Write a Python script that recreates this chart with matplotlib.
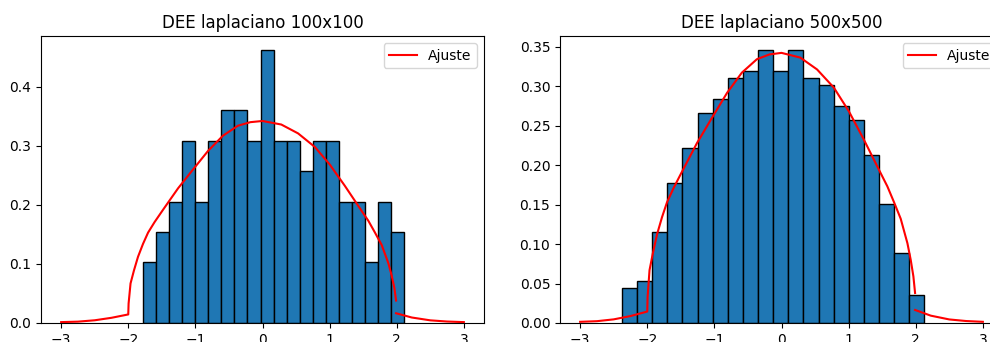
import numpy as np
import matplotlib
matplotlib.use('Agg')
import matplotlib.pyplot as plt

# conteos por bin (20 bins cada uno)
cuentas_100 = [2, 3, 4, 6, 4, 6, 7, 7, 6, 9, 6, 6, 5, 6, 6, 4, 4, 2, 4, 3]
rango_100 = (-1.78, 2.11)

cuentas_500 = [5, 6, 13, 20, 25, 30, 32, 35, 36, 39, 36, 39, 35, 34, 31, 29, 24, 17, 10, 4]
rango_500 = (-2.378, 2.130)

# curva de ajuste (puntos leidos, nan = corte en x=2)
ajuste_x = [-3.0, -2.75, -2.5, -2.25, -2.0,
            -1.995, -1.966, -1.915, -1.855, -1.78, -1.705, -1.607, -1.48,
            -1.258, -1.034, -0.81, -0.59, -0.366, -0.18, 0.0,
            0.28, 0.53, 0.78, 1.004, 1.228, 1.452, 1.577, 1.676, 1.776,
            1.876, 1.925, 1.965, 1.99,
            np.nan,
            1.99, 2.224, 2.5, 2.75, 3.0]
ajuste_y = [0.0015, 0.0023, 0.0046, 0.0088, 0.0145,
            0.033, 0.067, 0.089, 0.112, 0.134, 0.153, 0.171, 0.192,
            0.228, 0.260, 0.2915, 0.317, 0.334, 0.340, 0.342,
            0.336, 0.321, 0.298, 0.268, 0.232, 0.194, 0.173, 0.153, 0.132,
            0.101, 0.080, 0.059, 0.038,
            np.nan,
            0.0165, 0.0093, 0.0045, 0.0025, 0.0015]

titulos = ['DEE laplaciano 100x100', 'DEE laplaciano 500x500']

fig = plt.figure(figsize=(9.9, 3.42), dpi=100)
ax1 = fig.add_axes([41 / 990, 19 / 342, 443 / 990, 287 / 342])
ax2 = fig.add_axes([560 / 990, 19 / 342, 443 / 990, 287 / 342])

for ax, cuentas, rango, titulo in zip([ax1, ax2], [cuentas_100, cuentas_500],
                                      [rango_100, rango_500], titulos):
    bordes = np.linspace(rango[0], rango[1], len(cuentas) + 1)
    centros = (bordes[:-1] + bordes[1:]) / 2
    ax.hist(centros, bins=bordes, weights=cuentas, density=True,
            color='#1f77b4', edgecolor='black')
    ax.plot(ajuste_x, ajuste_y, color='red', label='Ajuste')
    ax.set_title(titulo)
    ax.legend(loc='upper right')

ax2.set_yticks([0.0, 0.05, 0.10, 0.15, 0.20, 0.25, 0.30, 0.35])
ax2.set_yticklabels(['0.00', '0.05', '0.10', '0.15', '0.20', '0.25', '0.30', '0.35'])

fig.savefig('out.png', dpi=100)
